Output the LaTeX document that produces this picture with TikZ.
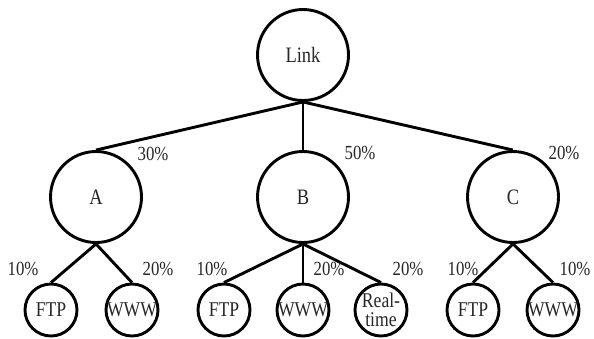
\documentclass[tikz,border=0pt]{standalone}
\usepackage{fontspec}
\setmainfont{Liberation Serif}[FakeStretch=0.84]
\begin{document}
\begin{tikzpicture}[x=1pt,y=-1pt,
  conn/.style={line width=2.9pt},
  big/.style={circle,draw,line width=2.9pt,minimum size=91pt,inner sep=0pt,
    text=black!85,font=\fontsize{22}{24}\selectfont},
  leaf/.style={circle,draw,line width=2.9pt,minimum size=52pt,inner sep=0pt,
    align=center,text=black!85,font=\fontsize{21}{18.5}\selectfont},
  pct/.style={inner sep=0pt,text=black!85,font=\fontsize{20}{22}\selectfont}]
\useasboundingbox (0,0) rectangle (594,338);

% root and second level
\node[big] (link) at (303,55) {Link};
\node[big] (a) at (96,197) {A};
\node[big] (b) at (303,197) {B};
\node[big] (c) at (513,197) {C};

% leaves
\node[leaf] (afe) at (51,310) {FTP};
\node[leaf] (aww) at (132,310) {WWW};
\node[leaf] (bfe) at (224,310) {FTP};
\node[leaf] (bww) at (303,310) {WWW};
\node[leaf] (brt) at (381,310) {Real-\\time};
\node[leaf] (cfe) at (473,310) {FTP};
\node[leaf] (cww) at (553,310) {WWW};

% connectors
\draw[conn] (link.south) -- (a.north);
\draw[conn] (link.south) -- (b.north);
\draw[conn] (link.south) -- (c.north);
\draw[conn] (a.south) -- (afe.north);
\draw[conn] (a.south) -- (aww.north);
\draw[conn] (b.south) -- (bfe.north);
\draw[conn] (b.south) -- (bww.north);
\draw[conn] (b.south) -- (brt.north);
\draw[conn] (c.south) -- (cfe.north);
\draw[conn] (c.south) -- (cww.north);

% shares
\node[pct] (pa) at (153,154) {30\%};
\node[pct] (pb) at (360,153) {50\%};
\node[pct] (pc) at (564,153) {20\%};
\node[pct] (pafe) at (23,269) {10\%};
\node[pct] (paww) at (158,269) {20\%};
\node[pct] (pbfe) at (212,269) {10\%};
\node[pct] (pbww) at (329,269) {20\%};
\node[pct] (pbrt) at (408,269) {20\%};
\node[pct] (pcfe) at (463,269) {10\%};
\node[pct] (pcww) at (575,269) {10\%};
\end{tikzpicture}
\end{document}
